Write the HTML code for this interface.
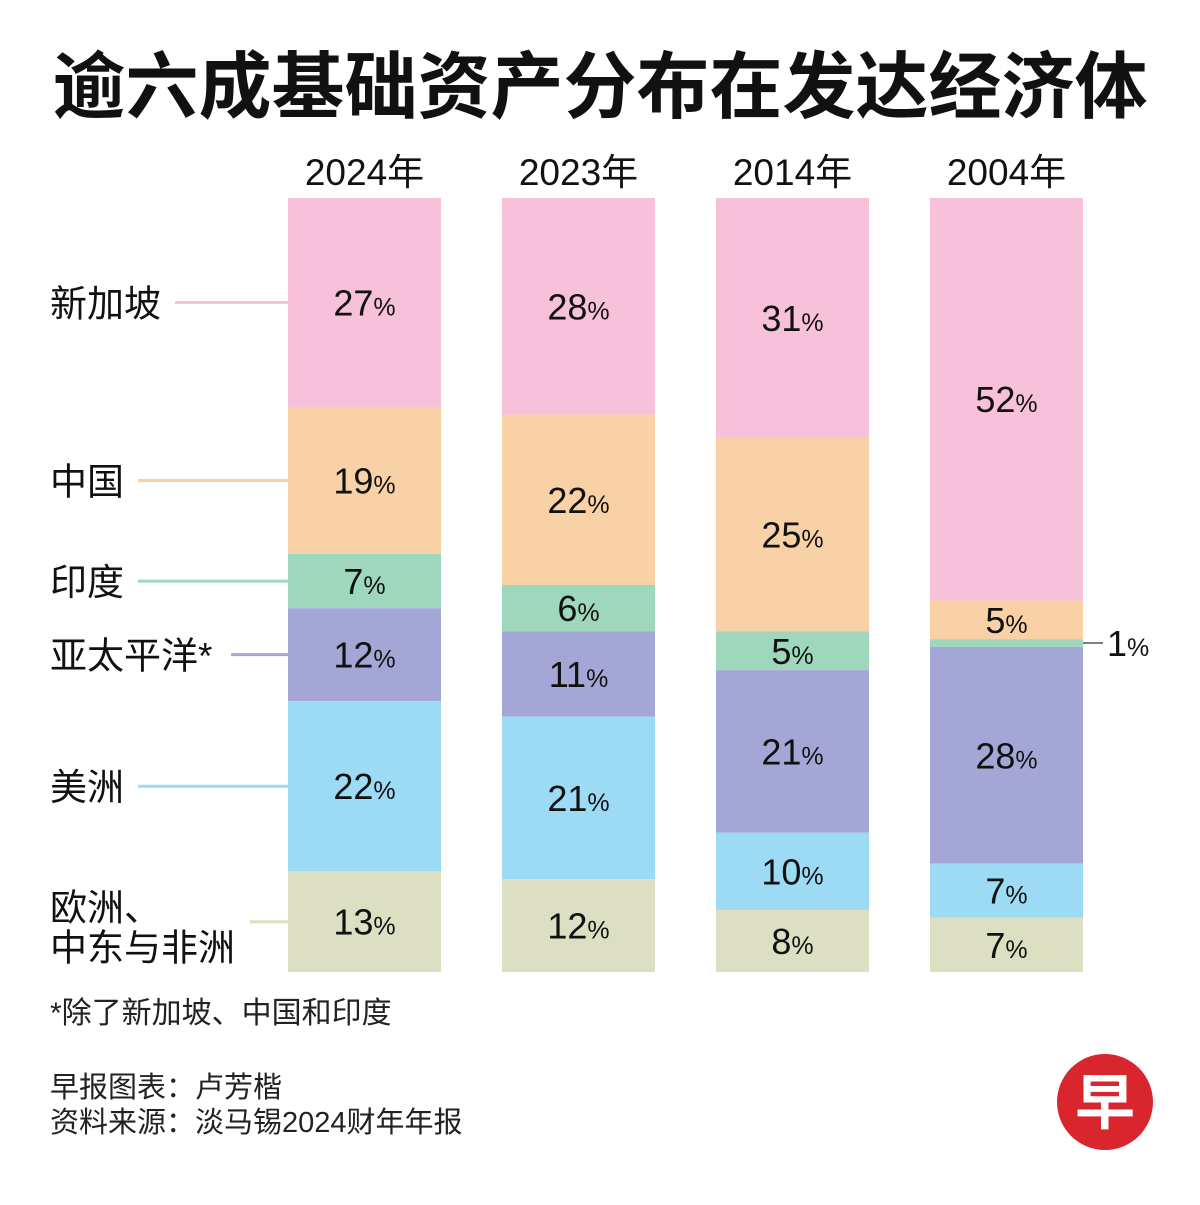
<!DOCTYPE html>
<html><head><meta charset="utf-8">
<style>
body{margin:0;background:#fff;}
svg text{font-family:"Liberation Sans","Noto Sans CJK SC",sans-serif;}
</style></head>
<body>
<svg id="chart" width="1200" height="1200" viewBox="0 0 1200 1200" xmlns="http://www.w3.org/2000/svg">
<rect width="1200" height="1200" fill="#fff"/>
<text x="600" y="112" text-anchor="middle" font-size="73" font-weight="bold" fill="#111">逾六成基础资产分布在发达经济体</text>
<g id="bars"></g>
<g id="legend"></g>
<text x="50" y="1023" font-size="30" fill="#222">*除了新加坡、中国和印度</text>
<text x="50" y="1097" font-size="29" fill="#222">早报图表：卢芳楷</text>
<text x="50" y="1132" font-size="29" fill="#222">资料来源：淡马锡2024财年年报</text>
<g>
<circle cx="1105" cy="1102" r="48" fill="#d9262e"/>
<text x="1105" y="1124" text-anchor="middle" font-size="60" font-weight="bold" fill="#fff">早</text>
</g>
</svg>
<script>
const years = ["2024年","2023年","2014年","2004年"];
const regions = ["新加坡","中国","印度","亚太平洋*","美洲","欧洲、中东与非洲"];
const s2024 = [27,19,7,12,22,13];
const s2023 = [28,22,6,11,21,12];
const s2014 = [31,25,5,21,10,8];
const s2004 = [52,5,1,28,7,7];
const series = [s2024,s2023,s2014,s2004];
const colors = ["#f6c1d9","#f9d1a7","#9fd7bd","#a4a7d5","#9ddbf5","#dcdfc2"];
const NS="http://www.w3.org/2000/svg";
const barTop=198,barBottom=972,barW=153;
const xLeft=i=>288+i*214;
const yScale=v=>barTop+(v/100)*(barBottom-barTop);
function mk(tag,attrs,parent){const e=document.createElementNS(NS,tag);for(const k in attrs)e.setAttribute(k,attrs[k]);parent.appendChild(e);return e;}
const g=document.getElementById('bars');
series.forEach((vals,i)=>{
  const x=xLeft(i);
  const yt=mk('text',{x:x+barW/2,y:185,'text-anchor':'middle','font-size':37,fill:'#111'},g);
  yt.textContent=years[i];
  
  
  let cum=0;
  vals.forEach((v,j)=>{
    const y0=yScale(cum),y1=yScale(cum+v);cum+=v;
    const r=mk('rect',{x:x,y:y0,width:barW,height:y1-y0,fill:colors[j]},g);
    
    
    if(v>=3){
      const t=mk('text',{x:x+barW/2,y:(y0+y1)/2+13,'text-anchor':'middle','font-size':36,fill:'#111'},g);
      t.innerHTML=v+'<tspan font-size="25">%</tspan>';
      
      
    } else {
      const ym=(y0+y1)/2;
      const l=mk('line',{x1:x+barW,y1:ym,x2:x+barW+20,y2:ym,stroke:'#555','stroke-width':1.5},g);
      
      
      const t=mk('text',{x:x+barW+24,y:ym+13,'font-size':36,fill:'#111'},g);
      t.innerHTML=v+'<tspan font-size="25">%</tspan>';
      
      
    }
  });
});
const lg=document.getElementById('legend');
let cumL=0;
s2024.forEach((v,j)=>{
  const ym=yScale(cumL+v/2);cumL+=v;
  const name=regions[j];
  if(j===5){
    const t1=mk('text',{x:50,y:ym-1,'font-size':37,fill:'#111'},lg);t1.textContent='欧洲、';
    
    
    const t2=mk('text',{x:50,y:ym+39,'font-size':37,fill:'#111'},lg);t2.textContent='中东与非洲';
    
    
    const l=mk('line',{x1:250,y1:ym,x2:288,y2:ym,stroke:colors[j],'stroke-width':3},lg);
    
    
  } else {
    const t=mk('text',{x:50,y:ym+14,'font-size':37,fill:'#111'},lg);t.textContent=name;
    
    
    const start=50+name.length*37+(name.endsWith('*')?-18:0)+14;
    const l=mk('line',{x1:start,y1:ym,x2:288,y2:ym,stroke:colors[j],'stroke-width':3},lg);
    
    
  }
});
</script>
</body></html>
